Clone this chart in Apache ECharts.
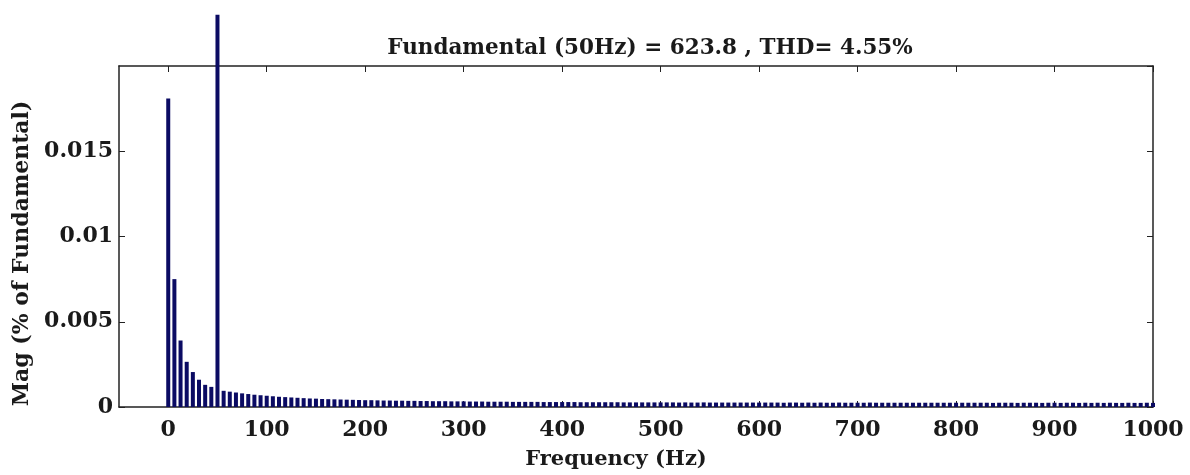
<!DOCTYPE html>
<html>
<head>
<meta charset="utf-8">
<title>FFT spectrum</title>
<script src="https://cdn.jsdelivr.net/npm/echarts@6/dist/echarts.min.js"></script>
<style>
    html, body { margin: 0; padding: 0; background: #fff; }
    #chart { width: 1190px; height: 475px; }
</style>
</head>
<body>
<div id="chart"></div>
<script>
// harmonic bins (Hz), resolution 6.25 Hz
var freqs = [
    0, 6.25, 12.5, 18.75, 25, 31.25, 37.5, 43.75, 50, 56.25, 62.5, 68.75, 75, 81.25, 87.5, 93.75,
    100, 106.25, 112.5, 118.75, 125, 131.25, 137.5, 143.75, 150, 156.25, 162.5, 168.75, 175, 181.25, 187.5, 193.75,
    200, 206.25, 212.5, 218.75, 225, 231.25, 237.5, 243.75, 250, 256.25, 262.5, 268.75, 275, 281.25, 287.5, 293.75,
    300, 306.25, 312.5, 318.75, 325, 331.25, 337.5, 343.75, 350, 356.25, 362.5, 368.75, 375, 381.25, 387.5, 393.75,
    400, 406.25, 412.5, 418.75, 425, 431.25, 437.5, 443.75, 450, 456.25, 462.5, 468.75, 475, 481.25, 487.5, 493.75,
    500, 506.25, 512.5, 518.75, 525, 531.25, 537.5, 543.75, 550, 556.25, 562.5, 568.75, 575, 581.25, 587.5, 593.75,
    600, 606.25, 612.5, 618.75, 625, 631.25, 637.5, 643.75, 650, 656.25, 662.5, 668.75, 675, 681.25, 687.5, 693.75,
    700, 706.25, 712.5, 718.75, 725, 731.25, 737.5, 743.75, 750, 756.25, 762.5, 768.75, 775, 781.25, 787.5, 793.75,
    800, 806.25, 812.5, 818.75, 825, 831.25, 837.5, 843.75, 850, 856.25, 862.5, 868.75, 875, 881.25, 887.5, 893.75,
    900, 906.25, 912.5, 918.75, 925, 931.25, 937.5, 943.75, 950, 956.25, 962.5, 968.75, 975, 981.25, 987.5, 993.75,
    1000
];
// magnitude (% of fundamental)
var mags = [
    0.0181, 0.0075, 0.0039, 0.00265, 0.00205, 0.0016, 0.0013, 0.00118, 0.0230, 0.00095, 0.0009, 0.00085, 0.0008, 0.00076, 0.00072, 0.00069,
    0.00066, 0.00063, 0.0006, 0.00058, 0.00056, 0.00054, 0.00052, 0.0005, 0.00049, 0.00047, 0.00046, 0.00045, 0.00044, 0.00043, 0.00042, 0.00041,
    0.0004, 0.0004, 0.00039, 0.00038, 0.00038, 0.00037, 0.00037, 0.00036, 0.00036, 0.00035, 0.00035, 0.00034, 0.00034, 0.00034, 0.00033, 0.00033,
    0.00033, 0.00032, 0.00032, 0.00032, 0.00031, 0.00031, 0.00031, 0.00031, 0.0003, 0.0003, 0.0003, 0.0003, 0.0003, 0.00029, 0.00029, 0.00029,
    0.00029, 0.00029, 0.00029, 0.00028, 0.00028, 0.00028, 0.00028, 0.00028, 0.00028, 0.00028, 0.00027, 0.00027, 0.00027, 0.00027, 0.00027, 0.00027,
    0.00027, 0.00027, 0.00027, 0.00026, 0.00027, 0.00026, 0.00026, 0.00027, 0.00026, 0.00026, 0.00026, 0.00026, 0.00026, 0.00026, 0.00026, 0.00026,
    0.00026, 0.00026, 0.00026, 0.00026, 0.00025, 0.00026, 0.00026, 0.00025, 0.00026, 0.00025, 0.00026, 0.00025, 0.00025, 0.00026, 0.00025, 0.00025,
    0.00025, 0.00025, 0.00026, 0.00025, 0.00025, 0.00025, 0.00025, 0.00025, 0.00025, 0.00025, 0.00025, 0.00025, 0.00025, 0.00025, 0.00025, 0.00025,
    0.00025, 0.00025, 0.00025, 0.00025, 0.00025, 0.00025, 0.00024, 0.00025, 0.00025, 0.00025, 0.00024, 0.00025, 0.00025, 0.00025, 0.00024, 0.00025,
    0.00025, 0.00024, 0.00025, 0.00025, 0.00024, 0.00025, 0.00024, 0.00025, 0.00024, 0.00025, 0.00024, 0.00024, 0.00025, 0.00024, 0.00024, 0.00025,
    0.00024
];
var xTicks = [0, 100, 200, 300, 400, 500, 600, 700, 800, 900, 1000];

var titleText = 'Fundamental (50Hz) = 623.8 , THD= 4.55%';
var fontFam = '"DejaVu Serif", serif';

var barData = [];
for (var i = 0; i < freqs.length; i++) {
    barData.push([freqs[i], mags[i]]);
}

var chart = echarts.init(document.getElementById('chart'));

var axisLineStyle = { color: '#222', width: 1.5 };

var option = {
    animation: false,
    backgroundColor: '#fff',
    title: {
        text: titleText,
        left: 645,
        top: 32,
        textAlign: 'center',
        textStyle: { fontFamily: fontFam, fontWeight: 'bold', fontSize: 21.5, color: '#1a1a1a' }
    },
    grid: { left: 119, right: 37, top: 66, bottom: 61 },
    xAxis: [{
        type: 'value',
        min: -50,
        max: 1000,
        position: 'bottom',
        name: 'Frequency (Hz)',
        nameLocation: 'middle',
        nameGap: 42,
        nameTextStyle: { fontFamily: fontFam, fontWeight: 'bold', fontSize: 21, color: '#1a1a1a', padding: [0, 40, 0, 0] },
        axisLine: { show: true, onZero: false, lineStyle: axisLineStyle },
        axisTick: { show: true, inside: true, length: 6, customValues: xTicks, lineStyle: { color: '#222' } },
        axisLabel: {
            customValues: xTicks,
            margin: 12,
            formatter: function (v) { return String(v); },
            fontFamily: fontFam, fontWeight: 'bold', fontSize: 22, color: '#1a1a1a'
        },
        splitLine: { show: false }
    }, {
        type: 'value',
        min: -50,
        max: 1000,
        position: 'top',
        axisLine: { show: true, onZero: false, lineStyle: axisLineStyle },
        axisTick: { show: true, inside: true, length: 6, customValues: xTicks, lineStyle: { color: '#222' } },
        axisLabel: { show: false },
        splitLine: { show: false }
    }],
    yAxis: [{
        type: 'value',
        min: 0,
        max: 0.02,
        interval: 0.005,
        position: 'left',
        name: 'Mag (% of Fundamental)',
        nameLocation: 'middle',
        nameGap: 84,
        nameTextStyle: { fontFamily: fontFam, fontWeight: 'bold', fontSize: 22, color: '#1a1a1a', padding: [0, 34, 0, 0] },
        axisLine: { show: true, onZero: false, lineStyle: axisLineStyle },
        axisTick: { show: true, inside: true, length: 6, lineStyle: { color: '#222' } },
        axisLabel: {
            showMaxLabel: false,
            margin: 6,
            fontFamily: fontFam, fontWeight: 'bold', fontSize: 22, color: '#1a1a1a'
        },
        splitLine: { show: false }
    }, {
        type: 'value',
        min: 0,
        max: 0.02,
        interval: 0.005,
        position: 'right',
        axisLine: { show: true, onZero: false, lineStyle: axisLineStyle },
        axisTick: { show: true, inside: true, length: 6, lineStyle: { color: '#222' } },
        axisLabel: { show: false },
        splitLine: { show: false }
    }],
    series: [{
        type: 'bar',
        xAxisIndex: 0,
        yAxisIndex: 0,
        data: barData,
        barWidth: 4,
        clip: false,
        itemStyle: { color: '#0b0b63' }
    }]
};

chart.setOption(option);
</script>
</body>
</html>
